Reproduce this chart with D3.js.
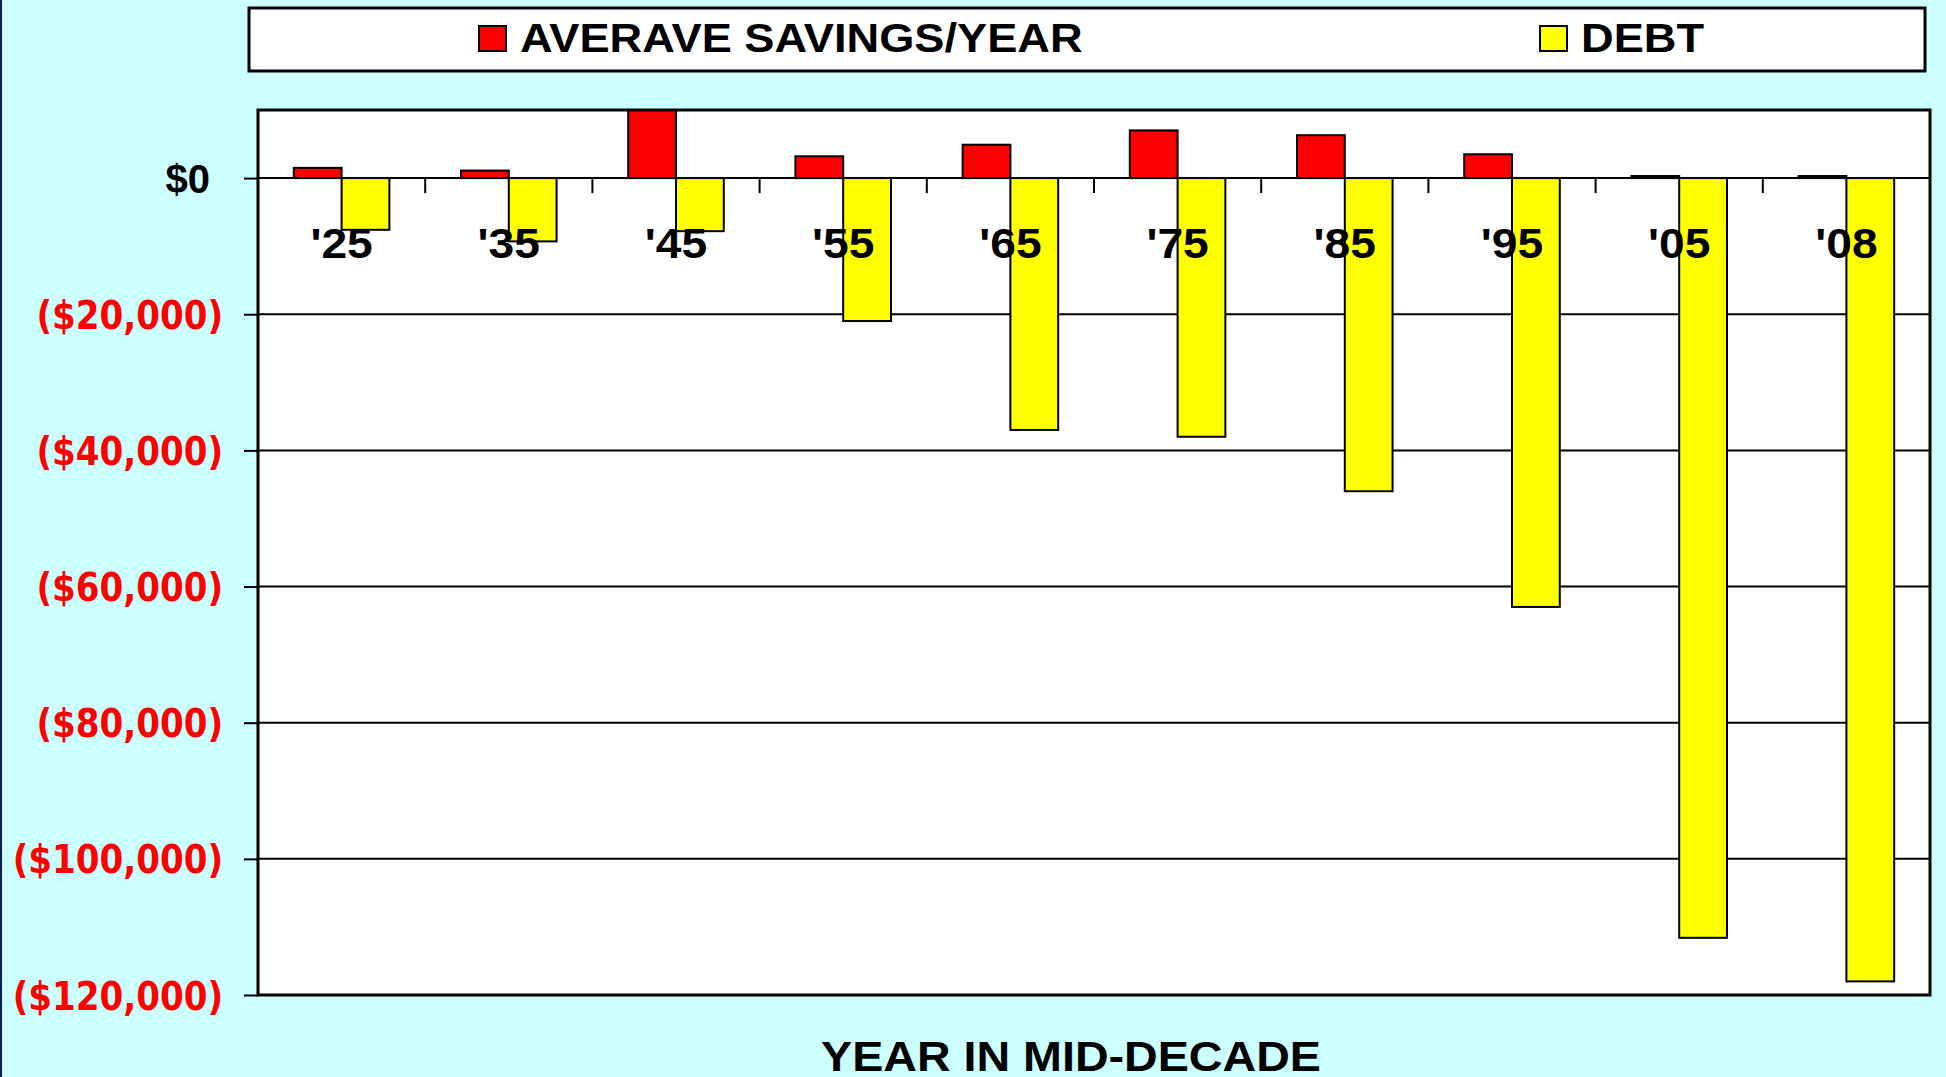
<html>
  <head>
    <title>Savings vs Debt</title>
    <script src="https://d3js.org/d3.v7.min.js"></script>
    <style>
      body{margin:0;background:#ccffff;overflow:hidden;}
    </style>
  </head>
  <body>
    <script>
      // values
      var years=["'25","'35","'45","'55","'65","'75","'85","'95","'05","'08"];
      var savings=[1500,1100,12000,3200,4900,7000,6300,3500,300,300];
      var debt=[-7600,-9300,-7800,-21000,-37000,-38000,-46000,-63000,-111600,-118000];
      var yTicks=[0,-20000,-40000,-60000,-80000,-100000,-120000];
      var seriesNames=["AVERAVE SAVINGS/YEAR","DEBT"];
      var seriesColors=["#ff0000","#ffff00"];

      var W=1946,H=1077;
      var pLeft=258,pRight=1930,pTop=110,pBottom=995;

      var svg=d3.select('body').append('svg')
                .attr('width',W)
                .attr('height',H);

      svg.append('rect').attr('width',W).attr('height',H).attr('fill','#ccffff');
      svg.append('rect').attr('width',2).attr('height',H).attr('fill','#0b1f5c');

      // stretch text a bit wider like the original
      function stretch(sel,k){
        sel.each(function(){
          var w=this.getComputedTextLength();
          d3.select(this).attr('textLength',w*k).attr('lengthAdjust','spacingAndGlyphs');
        });
      }

      var x=d3.scaleBand().domain(years).range([pLeft,pRight]);
      var x1=d3.scaleBand().domain([0,1]).range([0,x.bandwidth()]).paddingOuter(0.75);
      var y=d3.scaleLinear().domain([-120000,10000]).range([pBottom,pTop]);

      // legend
      svg.append('rect')
         .attr('x',249).attr('y',8).attr('width',1676).attr('height',63)
         .attr('fill','white').attr('stroke','black').attr('stroke-width',3);
      var legX=[479,1540];
      seriesNames.forEach(function(n,i){
        svg.append('rect')
           .attr('x',legX[i]).attr('y',26).attr('width',27).attr('height',25)
           .attr('fill',seriesColors[i]).attr('stroke','black').attr('stroke-width',2);
        svg.append('text')
           .attr('x',legX[i]+41).attr('y',52)
           .attr('font-family','Liberation Sans, Arial, sans-serif')
           .attr('font-weight','bold').attr('font-size',40)
           .text(n)
           .call(stretch,1.13);
      });

      // plot area
      svg.append('rect')
         .attr('x',pLeft).attr('y',pTop).attr('width',pRight-pLeft).attr('height',pBottom-pTop)
         .attr('fill','white');

      svg.append('g').selectAll('line')
         .data(yTicks.filter(function(d){return d!=0;}))
         .enter().append('line')
         .attr('x1',pLeft).attr('x2',pRight)
         .attr('y1',function(d){return y(d);}).attr('y2',function(d){return y(d);})
         .attr('stroke','black').attr('stroke-width',2);

      svg.append('clipPath').attr('id','plotclip')
         .append('rect').attr('x',pLeft).attr('y',pTop).attr('width',pRight-pLeft).attr('height',pBottom-pTop);

      var bars=svg.append('g').attr('clip-path','url(#plotclip)');
      [savings,debt].forEach(function(vals,s){
        bars.selectAll('rect.s'+s)
            .data(vals)
            .enter().append('rect')
            .attr('class','s'+s)
            .attr('x',function(d,i){return x(years[i])+x1(s);})
            .attr('width',x1.bandwidth())
            .attr('y',function(d){return y(Math.max(0,d));})
            .attr('height',function(d){return Math.abs(y(d)-y(0));})
            .attr('fill',seriesColors[s])
            .attr('stroke','black').attr('stroke-width',2);
      });

      // zero line and category ticks
      svg.append('line')
         .attr('x1',pLeft).attr('x2',pRight).attr('y1',y(0)).attr('y2',y(0))
         .attr('stroke','black').attr('stroke-width',2);
      svg.append('g').selectAll('line')
         .data(years.slice(1))
         .enter().append('line')
         .attr('x1',function(d){return x(d);}).attr('x2',function(d){return x(d);})
         .attr('y1',y(0)).attr('y2',y(0)+15)
         .attr('stroke','black').attr('stroke-width',2);

      // y axis
      var yAxis=d3.axisLeft(y)
                  .tickValues(yTicks)
                  .tickSize(14)
                  .tickPadding(21)
                  .tickFormat(function(d){
                    return d<0 ? '($'+d3.format(',')(-d)+')' : '$0';
                  });
      var gy=svg.append('g').attr('transform','translate('+pLeft+',0)').call(yAxis);
      gy.select('.domain').remove();
      gy.selectAll('.tick line').attr('stroke','black').attr('stroke-width',2);
      gy.selectAll('.tick text')
        .attr('fill','#ff0000')
        .attr('font-family','DejaVu Sans, Verdana, sans-serif')
        .attr('font-weight','bold')
        .attr('font-size',39)
        .attr('dy','0.36em')
        .call(stretch,0.875);
      gy.selectAll('.tick').filter(function(d){return d==0;}).select('text')
        .attr('fill','black')
        .attr('x',-48)
        .attr('font-family','Liberation Sans, Arial, sans-serif')
        .attr('font-size',40)
        .attr('textLength',null).attr('lengthAdjust',null);

      // plot border on top
      svg.append('rect')
         .attr('x',pLeft).attr('y',pTop).attr('width',pRight-pLeft).attr('height',pBottom-pTop)
         .attr('fill','none').attr('stroke','black').attr('stroke-width',3);

      // category labels over the bars
      svg.append('g').selectAll('text')
         .data(years)
         .enter().append('text')
         .attr('x',function(d){return x(d)+x.bandwidth()/2;})
         .attr('y',258)
         .attr('text-anchor','middle')
         .attr('font-family','Liberation Sans, Arial, sans-serif')
         .attr('font-weight','bold').attr('font-size',42)
         .text(function(d){return d;})
         .call(stretch,1.1);

      svg.append('text')
         .attr('x',1071).attr('y',1071)
         .attr('text-anchor','middle')
         .attr('font-family','Liberation Sans, Arial, sans-serif')
         .attr('font-weight','bold').attr('font-size',42)
         .text('YEAR IN MID-DECADE')
         .call(stretch,1.11);
    </script>
  </body>
</html>
